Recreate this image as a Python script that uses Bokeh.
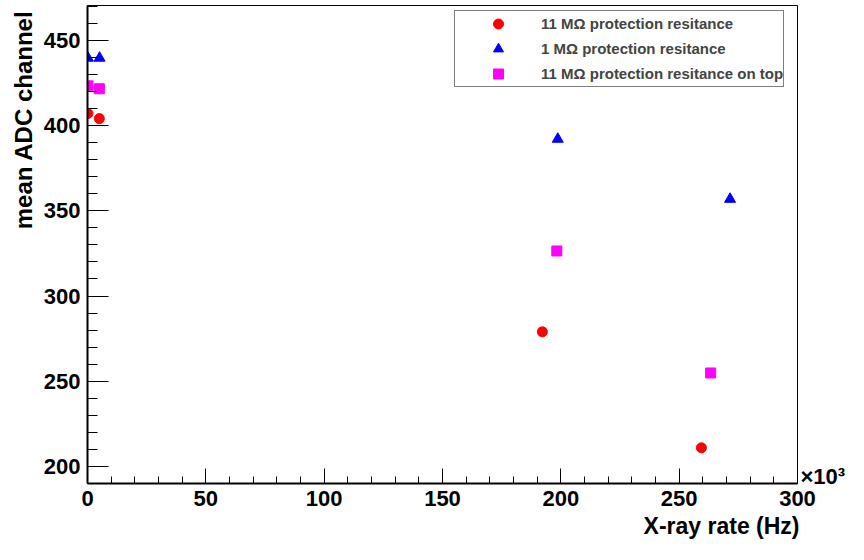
from bokeh.plotting import figure
from bokeh.models import (Range1d, SingleIntervalTicker, FixedTicker, Legend,
                          LegendItem, LinearAxis, Title)
from bokeh.embed import file_html
from bokeh.resources import INLINE

# X-ray rate in units of 10^3 Hz, mean ADC channel
rate_11M = [0.2, 5.0, 192.2, 259.4]
adc_11M = [407.0, 404.0, 279.0, 211.0]

rate_1M = [0.2, 5.1, 198.7, 271.5]
adc_1M = [439.5, 439.5, 392.0, 356.8]

rate_11M_top = [0.2, 5.0, 198.3, 263.3]
adc_11M_top = [423.2, 421.5, 326.4, 254.9]

labels = ["11 M\u03a9 protection resitance",
          "1 M\u03a9 protection resitance",
          "11 M\u03a9 protection resitance on top"]
x_title = "X-ray rate (Hz)"
y_title = "mean ADC channel"
x_multiplier = "\u00d710\u00b3"

FONT = "Liberation Sans"

p = figure(width=848, height=544, output_backend="svg", toolbar_location=None,
           x_range=Range1d(0, 300), y_range=Range1d(190.1, 470.3),
           min_border_left=87, min_border_right=49, min_border_top=5,
           min_border_bottom=61, background_fill_color="white",
           border_fill_color="white")
p.grid.visible = False
p.outline_line_color = "black"
p.outline_line_width = 1

r1 = p.scatter(rate_11M, adc_11M, marker="circle", size=10, color="#ff0000")
r2 = p.scatter(rate_1M, adc_1M, marker="triangle", size=11, color="#0000ff")
r3 = p.scatter(rate_11M_top, adc_11M_top, marker="square", size=10, color="#ff00ff")

xa = p.xaxis[0]
xa.ticker = SingleIntervalTicker(interval=50, num_minor_ticks=5)
ya = p.yaxis[0]
ya.ticker = SingleIntervalTicker(interval=50, num_minor_ticks=5)

for ax in (xa, ya):
    ax.axis_line_width = 2
    ax.axis_line_color = "black"
    ax.major_tick_line_color = "black"
    ax.minor_tick_line_color = "black"
    ax.major_tick_line_width = 1
    ax.minor_tick_line_width = 1
    ax.major_tick_out = 0
    ax.minor_tick_out = 0
    ax.major_label_text_font = FONT
    ax.major_label_text_font_style = "bold"
    ax.major_label_text_font_size = "22px"
    ax.major_label_text_color = "black"

xa.major_tick_in = 15
xa.minor_tick_in = 7
xa.major_label_standoff = 7
ya.major_tick_in = 21
ya.minor_tick_in = 10
ya.major_label_standoff = 7

# axis titles, right/top aligned as in the reference
p.add_layout(Title(text=x_title, align="right", offset=-2, standoff=4,
                   text_font=FONT, text_font_style="bold",
                   text_font_size="23px", text_color="black"), "below")
p.add_layout(Title(text=y_title, align="right", offset=5, standoff=7,
                   text_font=FONT, text_font_style="bold",
                   text_font_size="24px", text_color="black"), "left")

# multiplier of the x axis, placed as a single tick label of an empty right axis
mult_pos = 194.2
mult = LinearAxis(ticker=FixedTicker(ticks=[mult_pos]), axis_line_color=None,
                  major_tick_line_color=None, minor_tick_line_color=None,
                  major_tick_in=0, major_tick_out=0,
                  major_label_overrides={mult_pos: x_multiplier},
                  major_label_standoff=3, major_label_orientation="horizontal",
                  major_label_text_font=FONT, major_label_text_font_style="bold",
                  major_label_text_font_size="22px",
                  major_label_text_color="black")
p.add_layout(mult, "right")

legend = Legend(items=[LegendItem(label=labels[0], renderers=[r1]),
                       LegendItem(label=labels[1], renderers=[r2]),
                       LegendItem(label=labels[2], renderers=[r3])],
                location=(367, 396), padding=0, spacing=0,
                glyph_width=86, glyph_height=25, label_height=25,
                label_standoff=0, label_text_font=FONT,
                label_text_font_style="bold", label_text_font_size="15px",
                border_line_color="black", border_line_width=1,
                background_fill_color="white", background_fill_alpha=1.0,
                margin=0)
p.add_layout(legend)

open("out.html", "w").write(file_html(p, INLINE))
